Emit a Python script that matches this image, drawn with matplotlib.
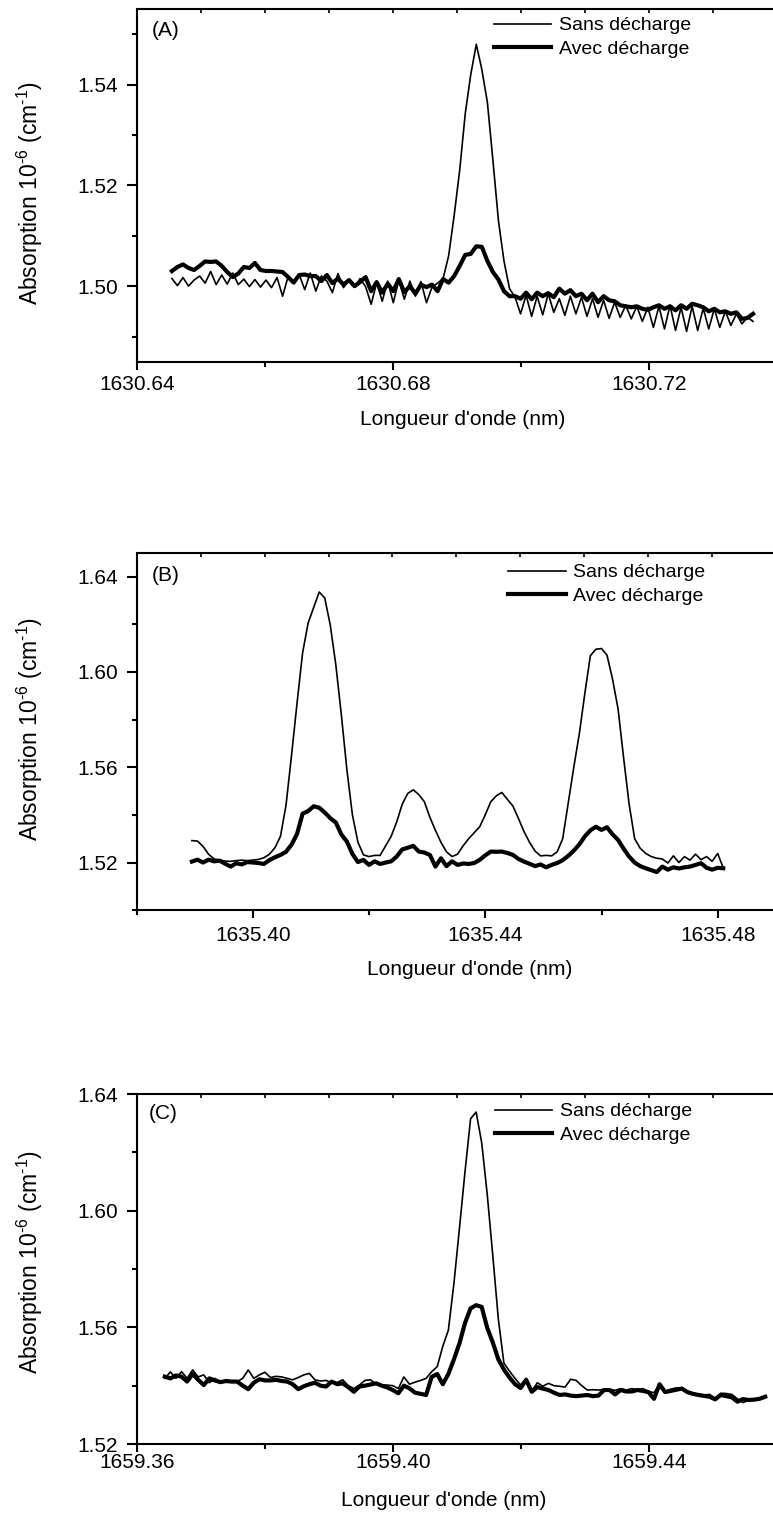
import numpy as np
import matplotlib
matplotlib.use("Agg")
import matplotlib.pyplot as plt
from matplotlib.ticker import MultipleLocator, FormatStrFormatter

plt.rcParams['font.family'] = ['Liberation Sans', 'DejaVu Sans']
plt.rcParams['mathtext.fontset'] = 'custom'
plt.rcParams['mathtext.rm'] = 'Liberation Sans'
plt.rcParams['mathtext.it'] = 'Liberation Sans:italic'
plt.rcParams['mathtext.default'] = 'regular'

# textes
legend_labels = ["Sans décharge", "Avec décharge"]
x_title = "Longueur d'onde (nm)"
y_title = r"Absorption 10$^{\text{-}6}$ (cm$^{\text{-}1}$)"
panel_tags = ["(A)", "(B)", "(C)"]

# (A) : plage de longueur d'onde mesurée (début, fin) en nm
a_wl = (1630.6455, 1630.7363)
a_sans = [
    1.5015, 1.5001, 1.5017, 1.5000, 1.5012, 1.5020, 1.5006, 1.5029, 1.5003, 1.5022,
    1.5004, 1.5026, 1.5003, 1.5014, 1.4999, 1.5013, 1.4998, 1.5012, 1.4997, 1.5017,
    1.4980, 1.5019, 1.5006, 1.5023, 1.4993, 1.5026, 1.4990, 1.5020, 1.5010, 1.4987,
    1.5025, 1.4997, 1.5013, 1.4998, 1.5015, 1.4999, 1.4964, 1.5007, 1.4970, 1.5010,
    1.4967, 1.5012, 1.4974, 1.5010, 1.4980, 1.5009, 1.4967, 1.4998, 1.5006, 1.5015,
    1.5060, 1.5140, 1.5230, 1.5342, 1.5420, 1.5480, 1.5430, 1.5365, 1.5250, 1.5130,
    1.5050, 1.4995, 1.4978, 1.4945, 1.4982, 1.4940, 1.4980, 1.4943, 1.4985, 1.4948,
    1.4975, 1.4942, 1.4980, 1.4945, 1.4978, 1.4940, 1.4975, 1.4938, 1.4972, 1.4936,
    1.4968, 1.4938, 1.4962, 1.4935, 1.4960, 1.4930, 1.4958, 1.4918, 1.4960, 1.4915,
    1.4962, 1.4912, 1.4958, 1.4910, 1.4960, 1.4912, 1.4956, 1.4915, 1.4955, 1.4918,
    1.4950, 1.4922, 1.4945, 1.4925, 1.4938, 1.4930,
]
a_avec = [
    1.5030, 1.5038, 1.5043, 1.5036, 1.5032, 1.5040, 1.5049, 1.5048, 1.5049, 1.5040,
    1.5028, 1.5018, 1.5025, 1.5038, 1.5036, 1.5046, 1.5032, 1.5030, 1.5030, 1.5029,
    1.5028, 1.5018, 1.5007, 1.5022, 1.5023, 1.5020, 1.5020, 1.5010, 1.5022, 1.5006,
    1.5015, 1.5003, 1.5012, 1.5000, 1.5008, 1.5018, 1.4990, 1.5008, 1.4987, 1.5005,
    1.4990, 1.5014, 1.4988, 1.5000, 1.4985, 1.5003, 1.4998, 1.5003, 1.4990, 1.5014,
    1.5007, 1.5020, 1.5040, 1.5062, 1.5064, 1.5079, 1.5078, 1.5050, 1.5028, 1.5013,
    1.4990, 1.4980, 1.4980, 1.4975, 1.4987, 1.4974, 1.4987, 1.4980, 1.4986, 1.4978,
    1.4995, 1.4985, 1.4992, 1.4980, 1.4985, 1.4972, 1.4985, 1.4968, 1.4980, 1.4972,
    1.4970, 1.4962, 1.4960, 1.4958, 1.4960, 1.4955, 1.4953, 1.4958, 1.4962, 1.4955,
    1.4960, 1.4952, 1.4962, 1.4955, 1.4965, 1.4962, 1.4958, 1.4950, 1.4955, 1.4948,
    1.4950, 1.4945, 1.4948, 1.4935, 1.4937, 1.4945,
]

# (B)
b_wl = (1635.3895, 1635.4809)
b_sans = [
    1.5292, 1.5290, 1.5268, 1.5235, 1.5215, 1.5210, 1.5206, 1.5205, 1.5208, 1.5210,
    1.5208, 1.5210, 1.5213, 1.5220, 1.5235, 1.5262, 1.5310, 1.5440, 1.5650, 1.5870,
    1.6080, 1.6205, 1.6270, 1.6335, 1.6310, 1.6196, 1.6030, 1.5820, 1.5590, 1.5400,
    1.5285, 1.5232, 1.5225, 1.5230, 1.5230, 1.5270, 1.5310, 1.5370, 1.5445, 1.5490,
    1.5505, 1.5485, 1.5455, 1.5390, 1.5335, 1.5285, 1.5245, 1.5225, 1.5235, 1.5270,
    1.5300, 1.5325, 1.5350, 1.5400, 1.5455, 1.5480, 1.5494, 1.5465, 1.5437, 1.5385,
    1.5330, 1.5285, 1.5248, 1.5228, 1.5230, 1.5228, 1.5245, 1.5300, 1.5450, 1.5600,
    1.5740, 1.5910, 1.6068, 1.6095, 1.6098, 1.6070, 1.5970, 1.5845, 1.5640, 1.5445,
    1.5300, 1.5260, 1.5238, 1.5225, 1.5218, 1.5215, 1.5198, 1.5228, 1.5200, 1.5225,
    1.5210, 1.5235, 1.5212, 1.5225, 1.5205, 1.5238, 1.5178,
]
b_avec = [
    1.5204, 1.5212, 1.5200, 1.5212, 1.5205, 1.5208, 1.5195, 1.5183, 1.5197, 1.5192,
    1.5202, 1.5200, 1.5198, 1.5194, 1.5210, 1.5222, 1.5232, 1.5245, 1.5275, 1.5320,
    1.5405, 1.5416, 1.5436, 1.5430, 1.5410, 1.5386, 1.5368, 1.5318, 1.5288, 1.5236,
    1.5202, 1.5211, 1.5190, 1.5205, 1.5194, 1.5200, 1.5205, 1.5225, 1.5255, 1.5262,
    1.5270, 1.5246, 1.5242, 1.5232, 1.5183, 1.5218, 1.5185, 1.5205, 1.5190, 1.5196,
    1.5194, 1.5198, 1.5211, 1.5230, 1.5246, 1.5245, 1.5246, 1.5240, 1.5232, 1.5215,
    1.5204, 1.5195, 1.5185, 1.5192, 1.5180, 1.5190, 1.5198, 1.5210, 1.5228, 1.5250,
    1.5276, 1.5310, 1.5335, 1.5350, 1.5337, 1.5348, 1.5318, 1.5295, 1.5258, 1.5225,
    1.5200, 1.5185, 1.5176, 1.5168, 1.5160, 1.5183, 1.5170, 1.5180, 1.5175, 1.5180,
    1.5183, 1.5190, 1.5197, 1.5178, 1.5170, 1.5178, 1.5176,
]

# (C)
c_wl = (1659.3644, 1659.4582)
c_sans = [
    1.5425, 1.5447, 1.5425, 1.5448, 1.5425, 1.5454, 1.5430, 1.5437, 1.5410, 1.5425,
    1.5410, 1.5418, 1.5414, 1.5414, 1.5425, 1.5454, 1.5425, 1.5437, 1.5446, 1.5428,
    1.5432, 1.5430, 1.5425, 1.5420, 1.5428, 1.5437, 1.5442, 1.5420, 1.5416, 1.5418,
    1.5410, 1.5411, 1.5420, 1.5400, 1.5390, 1.5402, 1.5418, 1.5420, 1.5405, 1.5403,
    1.5402, 1.5400, 1.5390, 1.5430, 1.5405, 1.5412, 1.5418, 1.5425, 1.5448, 1.5465,
    1.5535, 1.5590, 1.5750, 1.5940, 1.6134, 1.6315, 1.6338, 1.6233, 1.6055, 1.5845,
    1.5627, 1.5477, 1.5450, 1.5425, 1.5402, 1.5425, 1.5380, 1.5410, 1.5398, 1.5408,
    1.5400, 1.5398, 1.5395, 1.5422, 1.5418, 1.5400, 1.5385, 1.5386, 1.5385, 1.5387,
    1.5388, 1.5384, 1.5390, 1.5385, 1.5390, 1.5386, 1.5390, 1.5380, 1.5376, 1.5402,
    1.5380, 1.5388, 1.5392, 1.5390, 1.5380, 1.5374, 1.5370, 1.5368, 1.5370, 1.5357,
    1.5374, 1.5373, 1.5370, 1.5355, 1.5342, 1.5350, 1.5352, 1.5358, 1.5362,
]
c_avec = [
    1.5431, 1.5425, 1.5435, 1.5431, 1.5414, 1.5440, 1.5420, 1.5402, 1.5425, 1.5418,
    1.5412, 1.5416, 1.5414, 1.5414, 1.5400, 1.5388, 1.5410, 1.5422, 1.5418, 1.5418,
    1.5420, 1.5416, 1.5414, 1.5405, 1.5388, 1.5398, 1.5405, 1.5410, 1.5400, 1.5397,
    1.5414, 1.5405, 1.5408, 1.5395, 1.5379, 1.5397, 1.5400, 1.5404, 1.5408, 1.5400,
    1.5394, 1.5385, 1.5374, 1.5400, 1.5391, 1.5376, 1.5372, 1.5368, 1.5430, 1.5440,
    1.5405, 1.5440, 1.5490, 1.5545, 1.5615, 1.5665, 1.5676, 1.5670, 1.5598, 1.5548,
    1.5490, 1.5455, 1.5428, 1.5405, 1.5392, 1.5420, 1.5379, 1.5395, 1.5390, 1.5385,
    1.5376, 1.5368, 1.5370, 1.5366, 1.5364, 1.5366, 1.5368, 1.5364, 1.5366, 1.5385,
    1.5385, 1.5370, 1.5385, 1.5380, 1.5380, 1.5385, 1.5382, 1.5378, 1.5355, 1.5405,
    1.5378, 1.5382, 1.5386, 1.5390, 1.5378, 1.5372, 1.5368, 1.5365, 1.5362, 1.5353,
    1.5368, 1.5364, 1.5360, 1.5345, 1.5354, 1.5351, 1.5352, 1.5355, 1.5362,
]

W, H = 773, 1519
fig = plt.figure(figsize=(W / 100, H / 100), dpi=100)


def make_axes(left, top, right, bottom):
    # position en pixels -> fraction de figure
    return fig.add_axes([left / W, 1 - bottom / H, (right - left) / W, (bottom - top) / H])


def draw_panel(ax, wl, sans, avec, xlim, ylim, ystep, xpad, tag, tag_xy,
               leg_xy, xlab_xy, ylab_xy):
    assert len(sans) == len(avec)
    x = np.linspace(wl[0], wl[1], len(sans))
    ax.plot(x, sans, color='black', lw=1.2, label=legend_labels[0])
    ax.plot(x, avec, color='black', lw=3.0, label=legend_labels[1])

    ax.set_xlim(*xlim)
    ax.set_ylim(*ylim)
    ax.xaxis.set_major_locator(MultipleLocator(0.04))
    ax.xaxis.set_minor_locator(MultipleLocator(0.02))
    ax.yaxis.set_major_locator(MultipleLocator(ystep))
    ax.yaxis.set_minor_locator(MultipleLocator(ystep / 2))
    ax.xaxis.set_major_formatter(FormatStrFormatter('%.2f'))
    ax.yaxis.set_major_formatter(FormatStrFormatter('%.2f'))

    ax.tick_params(which='both', direction='out', width=1.5, top=False, right=False,
                   labelsize=15)
    ax.tick_params(axis='x', which='major', length=5.8, pad=xpad)
    ax.tick_params(axis='x', which='minor', length=3.6)
    ax.tick_params(axis='y', which='major', length=7.2, pad=6)
    ax.tick_params(axis='y', which='minor', length=3.6)
    for s in ax.spines.values():
        s.set_linewidth(1.5)

    # petites graduations sur le bord du haut
    top = ax.twiny()
    top.set_xlim(0, 0.1)
    top.xaxis.set_major_locator(MultipleLocator(0.01))
    top.tick_params(axis='x', direction='in', length=3, width=1.2, labeltop=False)
    for s in top.spines.values():
        s.set_visible(False)

    ax.text(tag_xy[0], tag_xy[1], tag, transform=ax.transAxes, fontsize=15,
            ha='left', va='center')

    ax.legend(loc='upper left', bbox_to_anchor=leg_xy, frameon=False, fontsize=14,
              handlelength=2.95, handletextpad=0.4, labelspacing=0.3,
              borderpad=0, borderaxespad=0)

    ax.set_xlabel(x_title, fontsize=15, va='center')
    ax.xaxis.set_label_coords(*xlab_xy)
    ax.set_ylabel(y_title, fontsize=16.5, va='center')
    ax.yaxis.set_label_coords(*ylab_xy)


ax_a = make_axes(136.7, 9, 776.7, 361.7)
draw_panel(ax_a, a_wl, a_sans, a_avec, (1630.64, 1630.74), (1.485, 1.555), 0.02, 3.8,
           panel_tags[0], (0.023, 0.94), (0.558, 0.978), (0.51, -0.165), (-0.167, 0.477))

ax_b = make_axes(136.7, 552.7, 776.1, 910.2)
draw_panel(ax_b, b_wl, b_sans, b_avec, (1635.38, 1635.49), (1.50, 1.65), 0.04, 5.6,
           panel_tags[1], (0.024, 0.935), (0.581, 0.969), (0.52, -0.167), (-0.167, 0.507))

ax_c = make_axes(136.7, 1094, 776.7, 1444)
draw_panel(ax_c, c_wl, c_sans, c_avec, (1659.36, 1659.46), (1.52, 1.64), 0.04, 0.6,
           panel_tags[2], (0.019, 0.945), (0.56, 0.975), (0.48, -0.16), (-0.167, 0.519))

fig.savefig('out.png', dpi=100)
